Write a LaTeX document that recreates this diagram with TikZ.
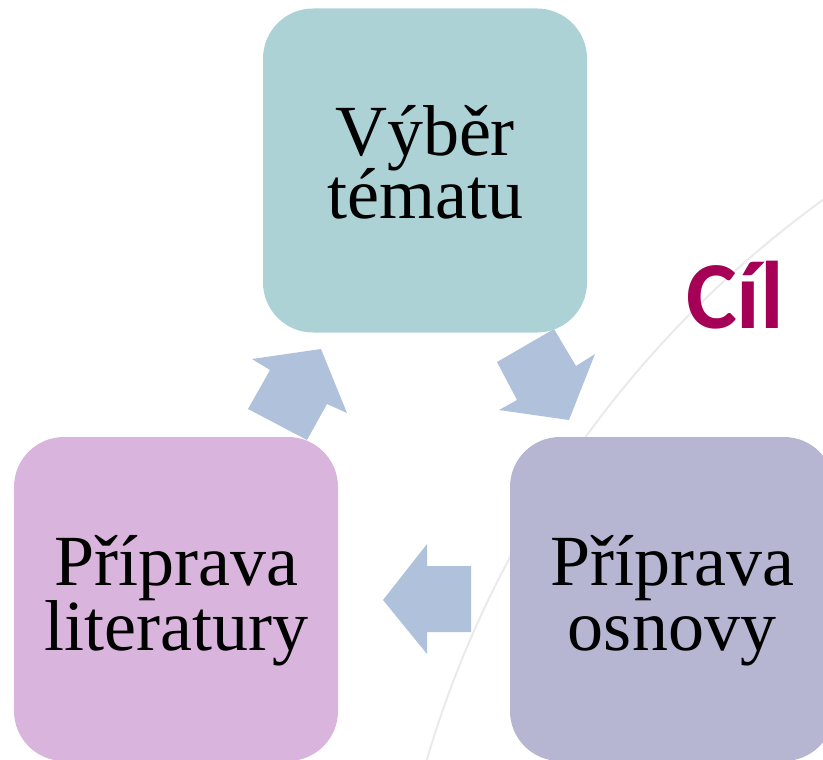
\documentclass[tikz,border=0pt]{standalone}
\usepackage{fontspec}
\setmainfont{Liberation Serif}
\newfontfamily\cilfont{Carlito}
\definecolor{boxteal}{RGB}{172,210,214}
\definecolor{boxpink}{RGB}{217,180,220}
\definecolor{boxpurple}{RGB}{182,181,210}
\definecolor{arrowblue}{RGB}{176,193,220}
\definecolor{arcgrey}{RGB}{234,234,234}
\definecolor{cilred}{RGB}{165,0,85}
\tikzset{
  stagebox/.style={rectangle, rounded corners=50pt, minimum width=324pt, minimum height=324pt, inner sep=0pt, draw=none},
  lbl/.style={anchor=base, inner sep=0pt, font=\fontsize{72}{72}\selectfont},
  blockarrow/.style={fill=arrowblue, draw=none},
  arcline/.style={draw=arcgrey, line width=2pt}
}
\begin{document}
\begin{tikzpicture}[x=1pt,y=-1pt]
\useasboundingbox (0,0) rectangle (823,760);
\begin{scope}
\clip (0,0) rectangle (823,760);
\draw[arcline] (1444,1059) circle (1060pt);
% block arrows
\fill[blockarrow] (248,409) -- (270,370) -- (252,359) -- (321,349) -- (347,413) -- (327,404) -- (307,440) -- cycle;
\fill[blockarrow] (497,362) -- (554,329) -- (576,366) -- (595,354) -- (569,420) -- (499,410) -- (517,400) -- cycle;
\fill[blockarrow] (471,566) -- (427,566) -- (427,544) -- (383,600) -- (427,654) -- (427,632) -- (471,632) -- cycle;
% boxes
\node[stagebox, fill=boxteal] (top) at (425,170.5) {};
\node[stagebox, fill=boxpink] (left) at (176,599) {};
\node[stagebox, fill=boxpurple] (right) at (672,599) {};
\end{scope}
\node[lbl] (topa) at (425,155) {Výběr};
\node[lbl] (topb) at (425,218) {tématu};
\node[lbl] (lefta) at (176,585) {Příprava};
\node[lbl] (leftb) at (176,650) {literatury};
\node[lbl] (righta) at (672,585) {Příprava};
\node[lbl] (rightb) at (672,650) {osnovy};
\node[anchor=base, inner sep=0pt, text=cilred, font=\cilfont\bfseries\fontsize{96}{96}\selectfont] (cil) at (735,328) {Cíl};
\end{tikzpicture}
\end{document}
